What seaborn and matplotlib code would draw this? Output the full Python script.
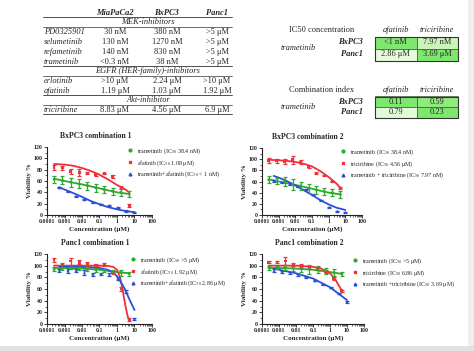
import numpy as np
import matplotlib
matplotlib.use("Agg")
import matplotlib.pyplot as plt
import seaborn as sns
from matplotlib.lines import Line2D
from matplotlib.patches import Rectangle
from matplotlib.ticker import LogLocator, FixedLocator, NullFormatter, FixedFormatter

sns.set_style("ticks")
plt.rcParams['font.family'] = ['Liberation Serif', 'DejaVu Serif']
plt.rcParams['mathtext.fontset'] = 'stix'

# ---------------- data: table 1 ----------------
cell_lines = ["MiaPaCa2", "BxPC3", "Panc1"]
mek_drugs = ["PD0325901", "selumetinib", "refametinib", "trametinib"]
mek_vals = [["30 nM", "380 nM", ">5 μM"],
            ["130 nM", "1270 nM", ">5 μM"],
            ["140 nM", "830 nM", ">5 μM"],
            ["<0.3 nM", "38 nM", ">5 μM"]]
egfr_drugs = ["erlotinib", "afatinib"]
egfr_vals = [[">10 μM", "2.24 μM", ">10 μM"],
             ["1.19 μM", "1.03 μM", "1.92 μM"]]
akt_drugs = ["triciribine"]
akt_vals = [["8.83 μM", "4.56 μM", "6.9 μM"]]

# ---------------- data: combination tables ----------------
combo_drugs = ["afatinib", "triciribine"]
combo_lines = ["BxPC3", "Panc1"]
ic50_combo = [["<1 nM", "7.97 nM"], ["2.86 μM", "3.69 μM"]]
ci_combo = [["0.11", "0.59"], ["0.79", "0.23"]]
ic50_colors = [["#7ee86e", "#c9f5b9"], ["#e6fadc", "#7ee86e"]]
ci_colors = [["#7ee86e", "#8fec7c"], ["#e3f9d8", "#7ee86e"]]

# ---------------- data: dose-response ----------------
conc = [0.000254, 0.000762, 0.00229, 0.00686, 0.0206, 0.0617, 0.185, 0.556, 1.67, 5.0]
conc_combo = [0.000508, 0.00152, 0.00457, 0.0137, 0.041, 0.123, 0.37, 1.11, 3.33, 10.0]

titles = ["BxPC3 combination 1", "BxPC3 combination 2",
          "Panc1 combination 1", "Panc1 combination 2"]
legend_labels = [
    ["trametinib (IC$_{50}$ 38.4 nM)", "afatinib (IC$_{50}$ 1.08 μM)", "trametinib+afatinib (IC$_{50}$ < 1 nM)"],
    ["trametinib (IC$_{50}$ 38.4 nM)", "triciribine (IC$_{50}$ 4.56 μM)", "trametinib + triciribine (IC$_{50}$ 7.97 nM)"],
    ["trametinib (IC$_{50}$ >5 μM)", "afatinib (IC$_{50}$ 1.92 μM)", "trametinib+afatinib (IC$_{50}$ 2.86 μM)"],
    ["trametinib (IC$_{50}$ >5 μM)", "triciribine (IC$_{50}$ 6.86 μM)", "trametinib +triciribine (IC$_{50}$ 3.69 μM)"],
]

# points (mean, err)
g_pts = [[63, 61, 58, 55, 52, 48, 45, 42, 40, 37],
         [63, 61, 60, 55, 52, 48, 45, 42, 40, 37],
         [94, 95, 96, 95, 94, 93, 92, 90, 88, 86],
         [96, 97, 97, 96, 95, 94, 93, 91, 88, 86]]
g_err = [[6, 7, 8, 8, 7, 7, 7, 6, 6, 6],
         [6, 6, 8, 10, 8, 8, 7, 6, 6, 6],
         [3, 2, 2, 3, 3, 3, 3, 3, 5, 4],
         [3, 3, 4, 5, 6, 8, 6, 5, 6, 4]]
r_pts = [[84, 83, 77, 75, 74, 71, 73, 68, 49, 17],
         [98, 97, 96, 99, 95, 86, 75, 70, 60, 48],
         [110, 103, 108, 106, 103, 101, 102, 88, 60, 8],
         [106, 106, 108, 102, 100, 97, 95, 90, 78, 57]]
r_err = [[5, 3, 4, 7, 2, 3, 1, 2, 2, 2],
         [4, 3, 4, 7, 3, 2, 2, 1, 1, 2],
         [3, 2, 6, 3, 3, 2, 3, 3, 3, 2],
         [2, 2, 7, 3, 3, 2, 3, 3, 2, 2]]
b_pts = [[48, 42, 33, 27, 22, 19, 17, 13, 7, 5],
         [61, 59, 55, 51, 45, 36, 26, 14, 7, 5],
         [92, 91, 92, 88, 85, 86, 85, 78, 56, 9],
         [92, 89, 87, 84, 80, 74, 68, 62, 52, 38]]
b_err = [[1, 1, 1, 1, 1, 1, 1, 1, 1, 1],
         [2, 1, 2, 1, 1, 1, 1, 1, 1, 1],
         [2, 3, 2, 4, 3, 2, 3, 2, 2, 2],
         [3, 2, 2, 2, 1, 1, 1, 1, 1, 2]]

# fitted curves (x, y)
g_curve_x = [[0.00025, 0.001, 0.01, 0.1, 1, 5]] * 4
g_curve_y = [[64, 60, 54, 47, 40, 37],
             [64, 60, 54, 47, 40, 37],
             [96, 96, 95, 93, 89, 87],
             [96, 96, 95, 93, 89, 86]]
r_curve_x = [[0.00025, 0.001, 0.003, 0.01, 0.03, 0.1, 0.3, 1, 3, 5],
             [0.00025, 0.001, 0.003, 0.01, 0.03, 0.1, 0.3, 1, 3, 5],
             [0.00025, 0.01, 0.1, 0.3, 0.6, 1, 1.5, 2, 3, 4, 5],
             [0.00025, 0.01, 0.1, 0.3, 1, 2, 3, 5]]
r_curve_y = [[90, 89, 87, 83, 78, 71, 63, 53, 45, 40],
             [99, 98, 97, 95, 92, 87, 79, 68, 56, 49],
             [100, 100, 100, 99.5, 98, 93, 80, 62, 32, 14, 6],
             [100, 100, 98, 95, 87, 77, 68, 57]]
b_curve_x = [[0.0005, 0.001, 0.003, 0.01, 0.03, 0.1, 0.3, 1, 3, 10],
             [0.0005, 0.001, 0.003, 0.01, 0.03, 0.1, 0.3, 1, 3, 10],
             [0.0005, 0.01, 0.1, 0.3, 0.6, 1, 2, 3, 5, 10],
             [0.0005, 0.001, 0.01, 0.1, 1, 10]]
b_curve_y = [[49, 45, 39, 32, 25, 19, 14, 10, 7, 5],
             [70, 67, 61, 53, 45, 36, 27, 19, 13, 9],
             [98, 98, 96, 93, 88, 82, 68, 58, 43, 24],
             [95, 93, 87, 78, 63, 41]]

x_ticks = [0.0001, 0.001, 0.01, 0.1, 1, 10, 100]
x_ticklabels = ["0.0001", "0.001", "0.01", "0.1", "1", "10", "100"]
y_ticks = [0, 20, 40, 60, 80, 100, 120]

GREEN, RED, BLUE = "#2fa82f", "#f0303a", "#2a4fd8"

W, H = 474, 351
fig = plt.figure(figsize=(W / 100, H / 100), dpi=100)
fig.patch.set_facecolor("white")


def fx(px):
    return px / W


def fy(py):
    return 1 - py / H


def txt(x, y, s, **kw):
    kw.setdefault("fontsize", 6)
    kw.setdefault("va", "center")
    fig.text(fx(x), fy(y), s, **kw)


def hline(y, x0=43, x1=232, lw=0.6):
    fig.add_artist(Line2D([fx(x0), fx(x1)], [fy(y), fy(y)], lw=lw, color="#333333"))


# frame strips
fig.add_artist(Rectangle((fx(468), 0), 6 / W, 1, transform=fig.transFigure,
                         facecolor="#eeeeee", edgecolor="none"))
fig.add_artist(Rectangle((0, 0), 1, 5 / H, transform=fig.transFigure,
                         facecolor="#e2e2e2", edgecolor="none"))

# ---------------- table 1 ----------------
col_x = [115, 167, 217]
for cx, name in zip(col_x, cell_lines):
    txt(cx, 13, name, ha="center", style="italic", weight="bold")
hline(17)


def section(title, y_title, drugs, vals, y0, step):
    txt(148, y_title, title, ha="center", style="italic")
    hline(y_title + 5, lw=0.5)
    for i, (d, row) in enumerate(zip(drugs, vals)):
        yy = y0 + i * step
        txt(44, yy, d, ha="left", style="italic")
        for cx, v in zip(col_x, row):
            txt(cx, yy, v, ha="center")


section("MEK-inhibitors", 22, mek_drugs, mek_vals, 32, 10)
hline(66)
section("EGFR (HER-family)-inhibitors", 71, egfr_drugs, egfr_vals, 81, 10)
hline(95)
section("Akt-inhibitor", 100, akt_drugs, akt_vals, 110, 10)
hline(114)


# ---------------- combination tables ----------------
def combo_table(title, ytop, values, colors):
    txt(289, ytop, title, ha="left", fontsize=6)
    for cx, d in zip([396, 437], combo_drugs):
        txt(cx, ytop, d, ha="center", style="italic", fontsize=6)
    cy0 = ytop + 6.5
    ch = 12 if title.startswith("IC") else 10.5
    txt(298, cy0 + ch, "trametinib", ha="center", style="italic", fontsize=6)
    for r, line in enumerate(combo_lines):
        txt(363, cy0 + ch * (r + 0.5), line, ha="right", style="italic", weight="bold", fontsize=6)
        for c in range(2):
            x0 = 375 + c * 41.5
            y0 = cy0 + r * ch
            fig.add_artist(Rectangle((fx(x0), fy(y0 + ch)), 41.5 / W, ch / H,
                                     transform=fig.transFigure, facecolor=colors[r][c],
                                     edgecolor="#4a4a4a", lw=0.5))
            txt(x0 + 20.75, y0 + ch / 2, values[r][c], ha="center", fontsize=6)
    fig.add_artist(Rectangle((fx(375), fy(cy0 + 2 * ch)), 83 / W, 2 * ch / H,
                             transform=fig.transFigure, facecolor="none",
                             edgecolor="#333333", lw=0.8))


combo_table("IC50 concentration", 30, ic50_combo, ic50_colors)
combo_table("Combination index", 90, ci_combo, ci_colors)

# ---------------- dose-response plots ----------------
axes_px = [(47, 152, 147, 215), (262, 362, 148, 215),
           (47, 152, 254, 324), (262, 364, 254, 324)]
legend_pos = [(128, 146), (341, 147), (131, 255), (353, 256)]

for k, (l, r, t, b) in enumerate(axes_px):
    ax = fig.add_axes([fx(l), fy(b), (r - l) / W, (b - t) / H])
    ax.set_facecolor("none")
    ax.set_xscale("log")
    for xs, ys, col in [(g_curve_x[k], g_curve_y[k], GREEN),
                        (r_curve_x[k], r_curve_y[k], RED),
                        (b_curve_x[k], b_curve_y[k], BLUE)]:
        sns.lineplot(x=xs, y=ys, ax=ax, color=col, lw=1.3, estimator=None, sort=False)
    for xs, ys, es, col, mk in [(conc, r_pts[k], r_err[k], RED, "s"),
                                (conc_combo, b_pts[k], b_err[k], BLUE, "^"),
                                (conc, g_pts[k], g_err[k], GREEN, "o")]:
        ax.errorbar(xs, ys, yerr=es, fmt="none", ecolor=col, elinewidth=0.9,
                    capsize=1.6, capthick=0.9)
        sns.scatterplot(x=xs, y=ys, ax=ax, color=col, marker=mk, s=4,
                        edgecolor="none", zorder=5)
    ax.set_xlim(1e-4, 100)
    ax.set_ylim(0, 120)
    ax.xaxis.set_major_locator(FixedLocator(x_ticks))
    ax.xaxis.set_major_formatter(FixedFormatter(x_ticklabels))
    ax.xaxis.set_minor_locator(LogLocator(base=10, subs=np.arange(2, 10) * 1.0, numticks=20))
    ax.xaxis.set_minor_formatter(NullFormatter())
    ax.set_yticks(y_ticks)
    ax.set_yticks([10, 30, 50, 70, 90, 110], minor=True)
    ax.tick_params(axis="both", which="major", length=2, width=0.6, pad=1,
                   labelsize=4.2, colors="#222222")
    ax.tick_params(axis="both", which="minor", length=1.2, width=0.5)
    for lab in ax.get_xticklabels() + ax.get_yticklabels():
        lab.set_fontweight("bold")
    for s in ["top", "right"]:
        ax.spines[s].set_visible(False)
    for s in ["left", "bottom"]:
        ax.spines[s].set_linewidth(0.8)
        ax.spines[s].set_color("#222222")
    ax.set_xlabel("Concentration (μM)", fontsize=5, fontweight="bold", labelpad=1.5)
    ax.set_ylabel("Viability %", fontsize=5, fontweight="bold", labelpad=1.5)
    txt((l + r) / 2 - 4, t - 11, titles[k], ha="center", fontsize=5.5, weight="bold")
    handles = [Line2D([], [], ls="none", marker=m, color=c, markersize=2)
               for m, c in [("o", GREEN), ("s", RED), ("^", BLUE)]]
    lx, ly = legend_pos[k]
    ax.legend(handles, legend_labels[k], loc="upper left",
              bbox_to_anchor=(fx(lx), fy(ly)), bbox_transform=fig.transFigure,
              frameon=False, fontsize=4.3, handlelength=0.6, handletextpad=0.9,
              labelspacing=0.35, borderaxespad=0, borderpad=0)

fig.savefig("out.png", dpi=100, facecolor="white")
